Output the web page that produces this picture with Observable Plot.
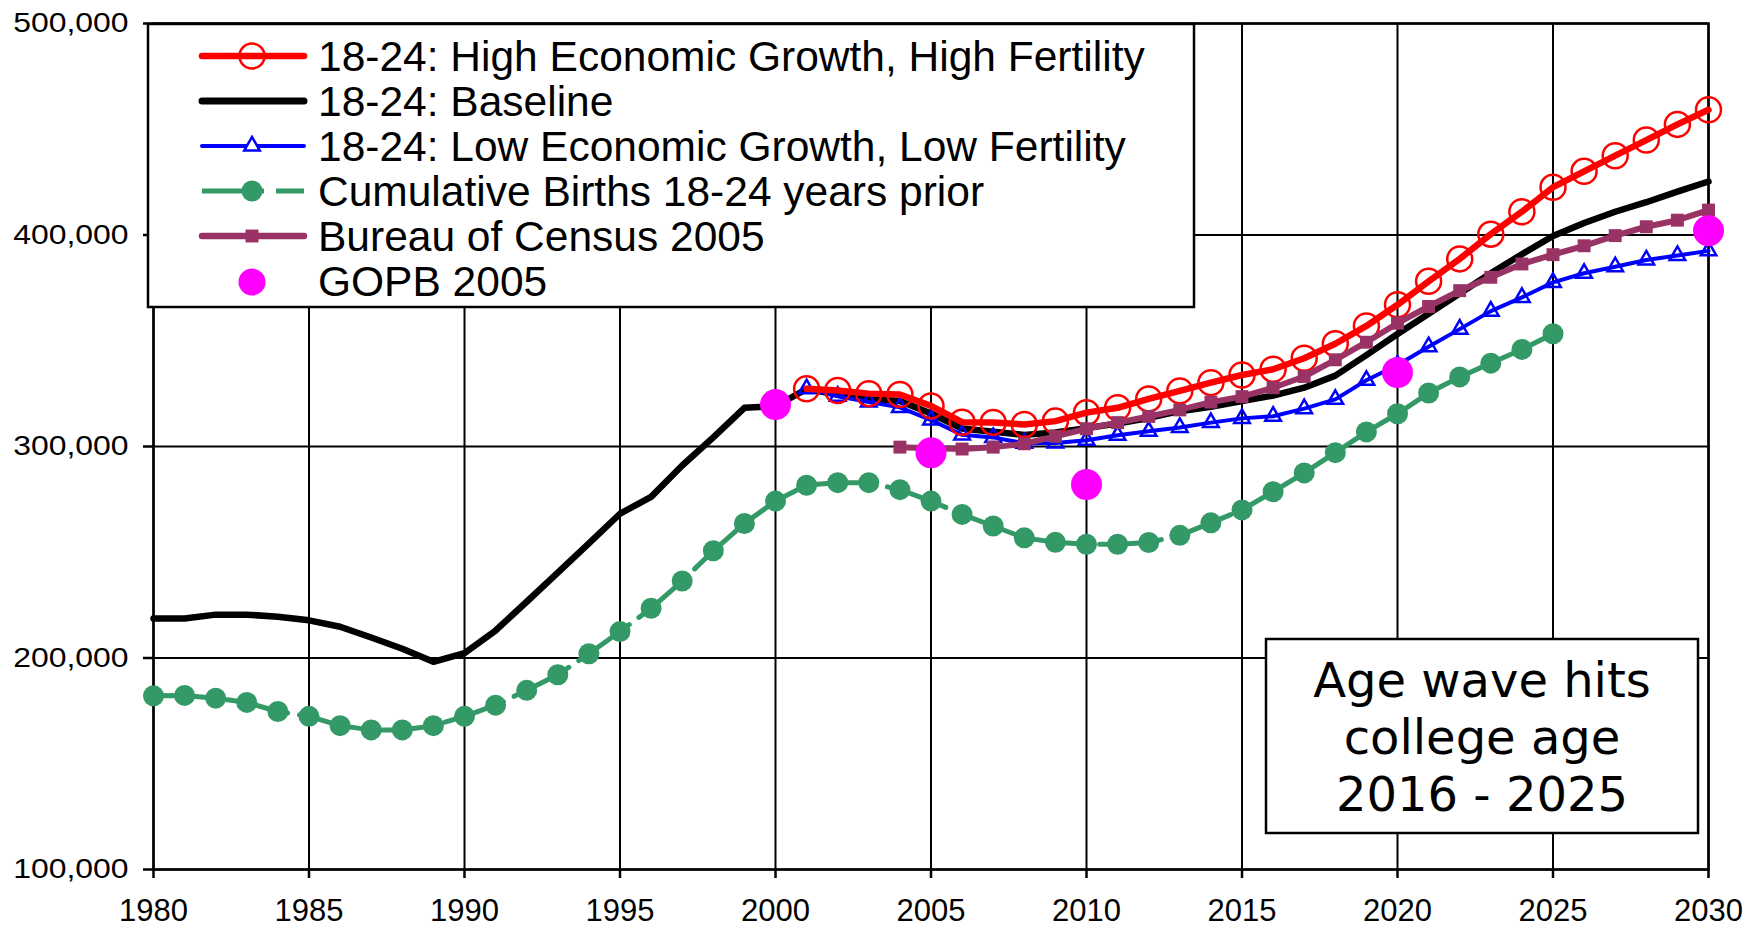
<!DOCTYPE html>
<html>
<head>
<meta charset="utf-8">
<script src="https://cdn.jsdelivr.net/npm/d3@7"></script>
<script src="https://cdn.jsdelivr.net/npm/@observablehq/plot@0.6"></script>
<style>
  html, body { margin: 0; padding: 0; background: #fff; }
  #chart { width: 1760px; height: 928px; overflow: hidden; }
</style>
</head>
<body>
<div id="chart"></div>
<script>
// ---------- data ----------
const years = [1980,1981,1982,1983,1984,1985,1986,1987,1988,1989,
               1990,1991,1992,1993,1994,1995,1996,1997,1998,1999,
               2000,2001,2002,2003,2004,2005,2006,2007,2008,2009,
               2010,2011,2012,2013,2014,2015,2016,2017,2018,2019,
               2020,2021,2022,2023,2024,2025,2026,2027,2028,2029,2030];

const seriesNames = [
  "18-24: High Economic Growth, High Fertility",
  "18-24: Baseline",
  "18-24: Low Economic Growth, Low Fertility",
  "Cumulative Births 18-24 years prior",
  "Bureau of Census 2005",
  "GOPB 2005"
];

// 18-24 baseline, 1980-2030
const baseline = [218700,218700,220500,220500,219500,217800,214800,209700,204400,198200,
                  202300,213000,226600,240400,254200,268200,276200,291000,304300,318300,
                  319000,327200,324600,322500,321500,315600,308500,307000,305500,306600,
                  308700,310900,313500,316700,318800,321500,324100,327800,333500,343200,
                  353200,362800,372300,381900,390900,399500,405700,411000,415500,420500,425300];

// 18-24 high growth/high fertility, 2001-2030
const highStart = 2001;
const high = [327300,326500,325000,324600,319200,311500,311400,310400,312000,316000,
              318300,322500,326300,330200,333800,336500,341700,348600,357000,367000,
              378100,388700,400400,411000,422600,430100,437500,444900,452300,459200];

// 18-24 low growth/low fertility, 2001-2030
const lowStart = 2001;
const low = [327300,323800,321000,318500,312500,305500,304300,301500,301700,303000,
             305300,307200,309000,311300,313300,314300,317900,322300,331300,338500,
             347200,355500,364000,370500,377600,381900,385000,388200,390300,392500];

// cumulative births 18-24 years prior, 1980-2025
const birthsStart = 1980;
const births = [182100,182300,181000,179000,174700,172400,168000,166000,166000,168000,
                172400,177700,184700,192100,202000,212500,223500,236400,250700,263600,
                274200,281700,282900,282900,279600,274200,267900,262400,256800,254700,
                253800,253800,254600,258000,263900,270000,278600,287500,297100,306900,
                315500,325300,332900,339400,345900,353300];

// Bureau of Census 2005, 2004-2030
const censusStart = 2004;
const census = [299700,299200,298800,299700,301300,304800,308400,311300,314200,317300,
                321000,323600,327800,333100,341000,349300,358300,366200,373700,380000,
                386300,390700,394900,399700,403900,407000,411800];

// GOPB 2005 points
const gopbYears = [2000, 2005, 2010, 2020, 2030];
const gopb = [319800, 297000, 282000, 335000, 402000];

const xTicks = [1980,1985,1990,1995,2000,2005,2010,2015,2020,2025,2030];
const yTicks = [100000,200000,300000,400000,500000];

const noteLines = ["Age wave hits", "college age", "2016 - 2025"];

// ---------- build rows ----------
function rows(start, values) {
  const i0 = years.indexOf(start);
  return values.map((v, i) => ({year: years[i0 + i], value: v}));
}
const baseRows = rows(1980, baseline);
const highRows = rows(highStart, high);
const lowRows = rows(lowStart, low);
const birthRows = rows(birthsStart, births);
const censusRows = rows(censusStart, census);
const gopbRows = gopbYears.map((y, i) => ({year: y, value: gopb[i]}));

const RED = "#ff0000", BLUE = "#0000ff", GREEN = "#339966", PURPLE = "#993366", MAGENTA = "#ff00ff";
const DASH = "62,12";
const FONT = "'Liberation Sans', Arial, sans-serif";

const chart = Plot.plot({
  width: 1760,
  height: 928,
  marginLeft: 153,
  marginRight: 52,
  marginTop: 23,
  marginBottom: 59,
  style: {fontFamily: FONT, fontSize: "30px", color: "#000", background: "#fff"},
  x: {domain: [1980, 2030]},
  y: {domain: [100000, 500000]},
  marks: [
    Plot.gridX(xTicks, {stroke: "#000", strokeOpacity: 1, strokeWidth: 2}),
    Plot.gridY(yTicks, {stroke: "#000", strokeOpacity: 1, strokeWidth: 2}),
    Plot.axisX({ticks: xTicks, tickFormat: d => String(d), tickSize: 9, tickPadding: 20, fontSize: 31, strokeWidth: 2.5, label: null}),
    Plot.axisY({ticks: yTicks, tickFormat: d3.format(","), tickSize: 10, tickPadding: 15, fontSize: 28, strokeWidth: 2.5, label: null}),
    Plot.frame({stroke: "#000", strokeWidth: 2.5}),
    // cumulative births
    Plot.line(birthRows, {x: "year", y: "value", stroke: GREEN, strokeWidth: 5, strokeDasharray: DASH}),
    Plot.dot(birthRows, {x: "year", y: "value", r: 10.5, fill: GREEN, stroke: "none"}),
    // baseline
    Plot.line(baseRows, {x: "year", y: "value", stroke: "#000", strokeWidth: 6.5, strokeLinejoin: "round"}),
    // low
    Plot.line(lowRows, {x: "year", y: "value", stroke: BLUE, strokeWidth: 4}),
    Plot.dot(lowRows, {x: "year", y: "value", symbol: "triangle", r: 5.8, fill: "none", stroke: BLUE, strokeWidth: 2.5}),
    // high
    Plot.line(highRows, {x: "year", y: "value", stroke: RED, strokeWidth: 6.5, strokeLinejoin: "round"}),
    Plot.dot(highRows, {x: "year", y: "value", r: 12.5, fill: "none", stroke: RED, strokeWidth: 2.5}),
    // census
    Plot.line(censusRows, {x: "year", y: "value", stroke: PURPLE, strokeWidth: 6}),
    Plot.dot(censusRows, {x: "year", y: "value", symbol: "square", r: 7.3, fill: PURPLE, stroke: "none"}),
    // GOPB
    Plot.dot(gopbRows, {x: "year", y: "value", r: 15.5, fill: MAGENTA, stroke: "none"})
  ]
});

document.getElementById("chart").appendChild(chart);

const svg = d3.select(chart);
// tick label sizes; the reference's y labels are slightly wide, so stretch them about their anchor
svg.selectAll('g[aria-label="x-axis tick label"]').attr("font-size", 31).selectAll("text").attr("font-size", 31);
svg.selectAll('g[aria-label="y-axis tick label"]').attr("font-size", 28).selectAll("text").each(function () {
  const t = d3.select(this);
  t.attr("font-size", 28);
  const x = +(t.attr("x") || 0);
  const tr = t.attr("transform") || "";
  t.attr("transform", `${tr} translate(${x},0) scale(1.14,1) translate(${-x},0)`);
});

// ---------- legend (inside plot, top-left) ----------
const lg = svg.append("g").attr("class", "legend").attr("text-anchor", "start");
lg.append("rect").attr("x", 148).attr("y", 24).attr("width", 1046).attr("height", 283)
  .attr("fill", "#fff").attr("stroke", "#000").attr("stroke-width", 2.5);

const legendStyles = [
  {stroke: RED, width: 6.5, marker: "circle"},
  {stroke: "#000", width: 7, marker: null},
  {stroke: BLUE, width: 4, marker: "triangle"},
  {stroke: GREEN, width: 5, marker: "dot", dash: DASH},
  {stroke: PURPLE, width: 6.5, marker: "square"},
  {stroke: null, width: 0, marker: "gopb"}
];
seriesNames.forEach((name, i) => {
  const base = 71 + i * 45;
  const cy = base - 15;
  const s = legendStyles[i];
  if (s.stroke) {
    const ln = lg.append("line").attr("x1", 202).attr("x2", 304).attr("y1", cy).attr("y2", cy)
      .attr("stroke", s.stroke).attr("stroke-width", s.width);
    if (s.dash) ln.attr("stroke-dasharray", s.dash);
    else ln.attr("stroke-linecap", "round");
  }
  const cx = 252;
  if (s.marker === "circle") {
    lg.append("circle").attr("cx", cx).attr("cy", cy).attr("r", 12.5).attr("fill", "none").attr("stroke", RED).attr("stroke-width", 2.5);
  } else if (s.marker === "triangle") {
    lg.append("path").attr("d", d3.symbol(d3.symbolTriangle, Math.PI * 5.8 * 5.8)()).attr("transform", `translate(${cx},${cy})`)
      .attr("fill", "#fff").attr("stroke", BLUE).attr("stroke-width", 2.5);
  } else if (s.marker === "dot") {
    lg.append("circle").attr("cx", cx).attr("cy", cy).attr("r", 10.5).attr("fill", GREEN);
  } else if (s.marker === "square") {
    lg.append("path").attr("d", d3.symbol(d3.symbolSquare, Math.PI * 7.3 * 7.3)()).attr("transform", `translate(${cx},${cy})`)
      .attr("fill", PURPLE);
  } else if (s.marker === "gopb") {
    lg.append("circle").attr("cx", cx).attr("cy", cy + 1).attr("r", 13.5).attr("fill", MAGENTA);
  }
  lg.append("text").attr("x", 318).attr("y", base).attr("text-anchor", "start").text(name)
    .attr("font-family", FONT).attr("font-size", 42.5).attr("fill", "#000");
});

// ---------- annotation box ----------
const note = svg.append("g").attr("class", "note");
note.append("rect").attr("x", 1266).attr("y", 639).attr("width", 432).attr("height", 194)
  .attr("fill", "#fff").attr("stroke", "#000").attr("stroke-width", 2.5);
noteLines.forEach((t, i) => {
  note.append("text").attr("x", 1482).attr("y", 697 + i * 57).attr("text-anchor", "middle")
    .attr("font-family", "'DejaVu Sans', Verdana, sans-serif").attr("font-size", 48).attr("fill", "#000").text(t);
});
</script>
</body>
</html>
